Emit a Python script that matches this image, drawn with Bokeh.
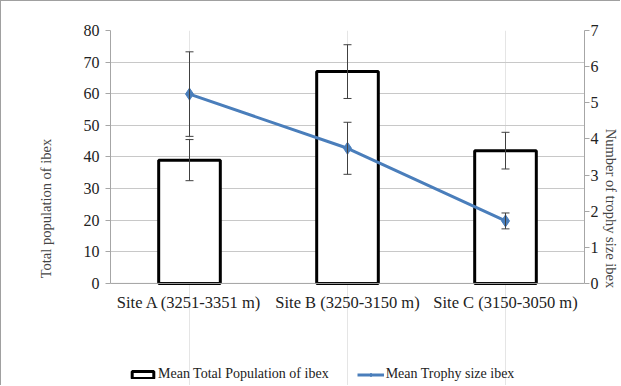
from bokeh.plotting import figure
from bokeh.models import (ColumnDataSource, FactorRange, Range1d, LinearAxis, Span,
                          Whisker, TeeHead, Legend, LegendItem, FixedTicker)
from bokeh.core.properties import value
from bokeh.embed import file_html
from bokeh.resources import INLINE

sites = ["Site A (3251-3351 m)", "Site B (3250-3150 m)", "Site C (3150-3050 m)"]
population = [39, 67, 42]
population_err = [6.5, 8.5, 5.8]
trophy = [5.24, 3.74, 1.73]
trophy_err = [1.17, 0.72, 0.22]
left_ticks = [0, 10, 20, 30, 40, 50, 60, 70, 80]
right_ticks = [0, 1, 2, 3, 4, 5, 6, 7]

FONT = "Liberation Serif"
GRID = "#c8c8c8"
AXIS = "#a6a6a6"
BLUE = "#4a7ebb"
ERR = "#404040"

# the frame extends below zero to leave room for category labels and legend
Y_MIN = -32.6
LEFT_MAX, RIGHT_MAX = 80, 7

bar_src = ColumnDataSource(dict(
    x=sites, top=population,
    upper=[v + e for v, e in zip(population, population_err)],
    lower=[v - e for v, e in zip(population, population_err)]))
line_src = ColumnDataSource(dict(
    x=sites, y=trophy,
    upper=[v + e for v, e in zip(trophy, trophy_err)],
    lower=[v - e for v, e in zip(trophy, trophy_err)]))
label_src = ColumnDataSource(dict(x=sites, y=[0] * len(sites), text=sites))

p = figure(x_range=FactorRange(*sites), y_range=Range1d(Y_MIN, LEFT_MAX),
           width=620, height=385, output_backend="svg", toolbar_location=None,
           x_axis_location=None,
           min_border_left=109, min_border_right=37,
           min_border_top=29, min_border_bottom=0)
p.outline_line_color = None
p.background_fill_color = "white"
p.border_fill_color = "white"
p.styles = {"border-left": "1px solid #a0a0a0", "border-top": "1px solid #a0a0a0"}

p.extra_y_ranges = {"right": Range1d(Y_MIN * RIGHT_MAX / LEFT_MAX, RIGHT_MAX)}

# y axis left
ya = p.yaxis[0]
ya.ticker = FixedTicker(ticks=left_ticks)
ya.bounds = (0, LEFT_MAX)
ya.axis_label = "Total population of ibex"
ya.axis_label_text_font = FONT
ya.axis_label_text_font_style = "normal"
ya.axis_label_text_font_size = "14.5px"
ya.axis_label_standoff = 27
ya.major_label_text_font = FONT
ya.major_label_text_font_size = "16px"
ya.major_label_text_color = "#222222"
ya.axis_line_color = AXIS
ya.major_tick_line_color = AXIS
ya.major_tick_in = 0
ya.major_tick_out = 5
ya.minor_tick_line_color = None
ya.major_label_standoff = 6

yr = LinearAxis(y_range_name="right", ticker=FixedTicker(ticks=right_ticks),
                axis_label="Number of trophy size ibex", bounds=(0, RIGHT_MAX))
yr.axis_label_text_font = FONT
yr.axis_label_text_font_style = "normal"
yr.axis_label_text_font_size = "14.5px"
yr.axis_label_standoff = 1
yr.major_label_text_font = FONT
yr.major_label_text_font_size = "16px"
yr.major_label_text_color = "#222222"
yr.axis_line_color = AXIS
yr.major_tick_line_color = AXIS
yr.major_tick_in = 0
yr.major_tick_out = 5
yr.minor_tick_line_color = None
yr.major_label_standoff = 1
p.add_layout(yr, "right")

p.ygrid.grid_line_color = GRID
p.ygrid.ticker = FixedTicker(ticks=left_ticks)

# category axis line at zero and category labels beneath it
p.add_layout(Span(location=0, dimension="width", line_color=AXIS, line_width=1))
p.text(x="x", y="y", text="text", source=label_src, text_font=value(FONT),
       text_font_size="16.5px", text_color="#222222", text_align="center",
       text_baseline="top", y_offset=10)

bars = p.vbar(x="x", top="top", width=0.39, source=bar_src, fill_color="white",
              line_color="black", line_width=3)
ln = p.line(x="x", y="y", source=line_src, y_range_name="right", line_color=BLUE, line_width=3)
mk = p.scatter(x="x", y="y", source=line_src, y_range_name="right", marker="diamond",
               size=12, fill_color=BLUE, line_color=BLUE)
for src, rng in ((bar_src, "default"), (line_src, "right")):
    p.add_layout(Whisker(base="x", upper="upper", lower="lower", source=src,
                         y_range_name=rng, level="overlay",
                         line_color=ERR, line_width=1,
                         upper_head=TeeHead(size=8, line_color=ERR, line_width=1),
                         lower_head=TeeHead(size=8, line_color=ERR, line_width=1)))

legend = Legend(items=[LegendItem(label="Mean Total Population of ibex", renderers=[bars]),
                       LegendItem(label="Mean Trophy size ibex", renderers=[ln, mk])],
                orientation="horizontal", location=(19, 4))
legend.label_text_font = FONT
legend.label_text_font_size = "14px"
legend.label_text_color = "#222222"
legend.border_line_color = None
legend.background_fill_alpha = 0
legend.glyph_width = 27
legend.glyph_height = 9
legend.label_standoff = 2
legend.spacing = 28
legend.padding = 4
legend.margin = 0
p.add_layout(legend, "center")

open("out.html", "w").write(file_html(p, INLINE))
